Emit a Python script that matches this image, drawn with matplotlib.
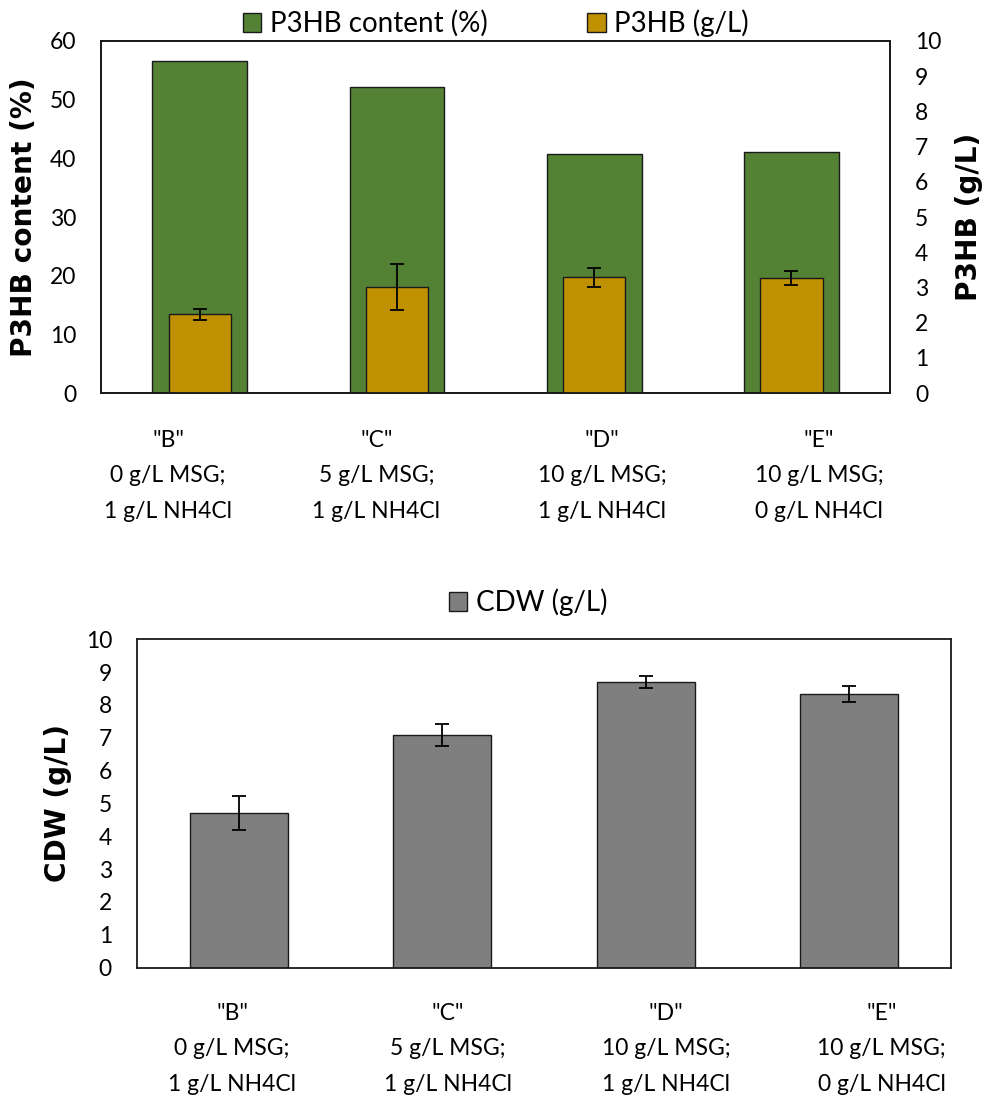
import matplotlib
matplotlib.use("Agg")
import matplotlib.pyplot as plt
import numpy as np

# ---- data ----
categories = ['"B"\n0 g/L MSG;\n1 g/L NH4Cl',
              '"C"\n5 g/L MSG;\n1 g/L NH4Cl',
              '"D"\n10 g/L MSG;\n1 g/L NH4Cl',
              '"E"\n10 g/L MSG;\n0 g/L NH4Cl']
p3hb_content = [56.6, 52.1, 40.7, 41.0]      # %
p3hb_gl = [2.24, 3.02, 3.29, 3.26]           # g/L
p3hb_gl_err = [0.16, 0.65, 0.27, 0.20]
cdw_gl = [4.71, 7.09, 8.71, 8.33]            # g/L
cdw_gl_err = [0.53, 0.34, 0.18, 0.25]

GREEN = "#548235"
GOLD = "#BF9000"
GRAY = "#7F7F7F"

plt.rcParams["font.family"] = ["Lato", "DejaVu Sans"]
TICK_FS = 16.5
LEGEND_FS = 20
LABEL_FS = 20.2

fig = plt.figure(figsize=(9.82, 11.05), dpi=100)
x = np.arange(len(categories))


def style_axes(ax):
    for s in ax.spines.values():
        s.set_linewidth(1.3)
        s.set_color("#1a1a1a")
    ax.tick_params(length=0, pad=18, labelsize=TICK_FS)


def category_labels(ax, fracs, y):
    for f, lab in zip(fracs, categories):
        ax.text(f, y, lab, transform=ax.transAxes, ha="center", va="top",
                fontsize=TICK_FS, linespacing=1.85)


legend_kw = dict(frameon=False, fontsize=LEGEND_FS, handlelength=0.65,
                 handleheight=0.65, handletextpad=0.3)

# ---- top panel: P3HB content and P3HB concentration ----
ax1 = fig.add_axes([0.1029, 0.6443, 0.8035, 0.3186])
ax1.bar(x, p3hb_content, width=0.48, color=GREEN, edgecolor="#1a1a1a",
        linewidth=1.0, label="P3HB content (%)")
ax1.set_ylim(0, 60)
ax1.set_yticks(np.arange(0, 61, 10))
ax1.set_xlim(-0.5, len(categories) - 0.5)
ax1.set_xticks([])
ax1.set_ylabel("P3HB content (%)", fontsize=LABEL_FS, fontweight="bold",
               family="DejaVu Sans", labelpad=8)
style_axes(ax1)

ax2 = ax1.twinx()
ax2.bar(x, p3hb_gl, width=0.315, color=GOLD, edgecolor="#1a1a1a",
        linewidth=1.0, label="P3HB (g/L)")
ax2.errorbar(x, p3hb_gl, yerr=p3hb_gl_err, fmt="none", ecolor="black",
             elinewidth=1.3, capsize=5, capthick=1.3)
ax2.set_ylim(0, 10)
ax2.set_yticks(np.arange(0, 11, 1))
ax2.set_ylabel("P3HB (g/L)", fontsize=LABEL_FS, fontweight="bold",
               family="DejaVu Sans", labelpad=10)
style_axes(ax2)

category_labels(ax1, [0.085, 0.349, 0.635, 0.91], -0.105)

h1, l1 = ax1.get_legend_handles_labels()
h2, l2 = ax2.get_legend_handles_labels()
fig.legend(h1 + h2, l1 + l2, loc="center", bbox_to_anchor=(0.505, 0.979),
           ncol=2, columnspacing=3.6, **legend_kw)

# ---- bottom panel: cell dry weight ----
ax3 = fig.add_axes([0.1395, 0.1243, 0.8289, 0.2972])
ax3.bar(x, cdw_gl, width=0.48, color=GRAY, edgecolor="#1a1a1a",
        linewidth=1.0, label="CDW (g/L)")
ax3.errorbar(x, cdw_gl, yerr=cdw_gl_err, fmt="none", ecolor="black",
             elinewidth=1.3, capsize=5, capthick=1.3)
ax3.set_ylim(0, 10)
ax3.set_yticks(np.arange(0, 11, 1))
ax3.set_xlim(-0.5, len(categories) - 0.5)
ax3.set_xticks([])
ax3.set_ylabel("CDW (g/L)", fontsize=LABEL_FS, fontweight="bold",
               family="DejaVu Sans", labelpad=10)
style_axes(ax3)

category_labels(ax3, [0.117, 0.382, 0.650, 0.915], -0.107)

h3, l3 = ax3.get_legend_handles_labels()
fig.legend(h3, l3, loc="center", bbox_to_anchor=(0.538, 0.455), **legend_kw)

fig.savefig("out.png", dpi=100)
